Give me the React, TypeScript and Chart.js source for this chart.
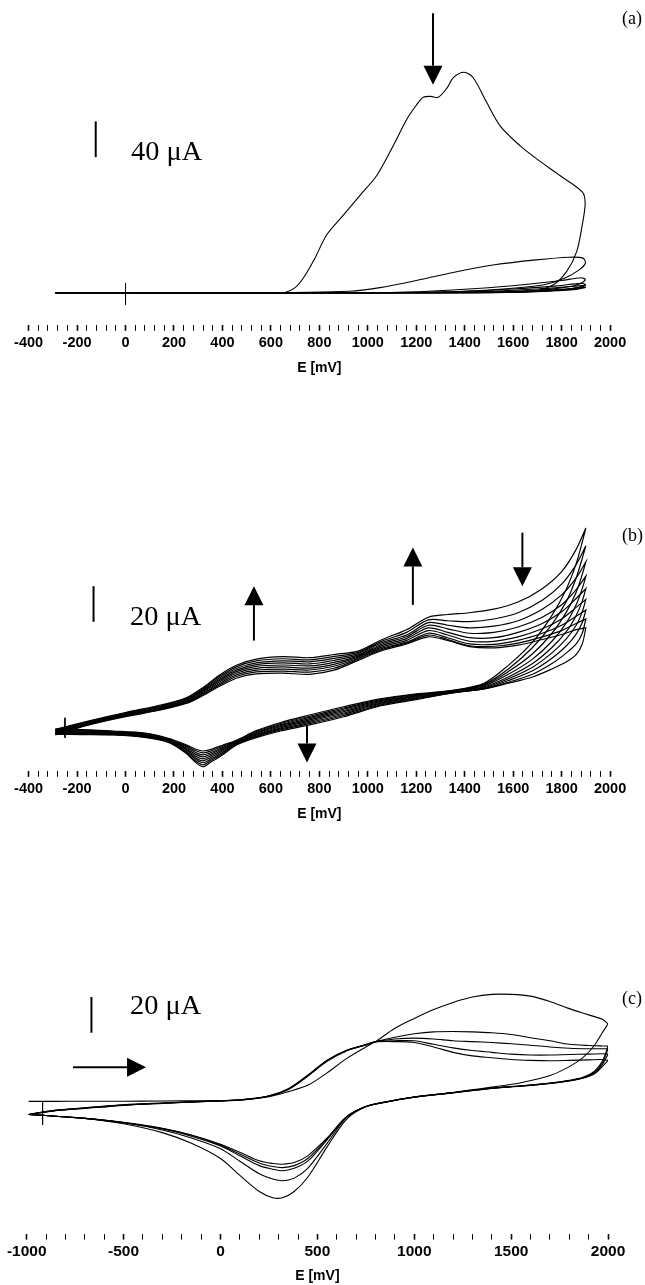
import React, { useEffect, useRef } from 'react';
import { Chart, registerables } from 'chart.js';

Chart.register(...registerables);

// ---------------- axis tick labels ----------------
const abTickLabels = [-400, -200, 0, 200, 400, 600, 800, 1000, 1200, 1400, 1600, 1800, 2000];
const cTickLabels = [-1000, -500, 0, 500, 1000, 1500, 2000];

// ---------------- panel (a): E [mV] / I [uA] ----------------
const aCycle1E = [-290, 0, 300, 600, 658, 700, 734, 780, 830, 899, 967, 1037, 1105, 1161, 1200, 1229, 1260, 1291, 1326, 1353, 1397, 1435, 1491, 1546, 1628, 1697, 1793, 1885, 1897, 1885, 1862, 1821, 1766, 1683, 1550, 1200, 800, 300, -290];
const aCycle1I = [0, 0, 0, 0, 0.5, 6, 16.7, 38, 64.8, 87, 109, 131.4, 164.8, 194.4, 210, 219, 220, 219, 229, 241, 247, 240.8, 213, 187, 164.8, 150, 131.4, 113, 100, 76, 46.3, 24.1, 9.2, 1.9, 0.6, 0.3, 0, 0, 0];
const aCycle2E = [-290, 500, 927, 1050, 1182, 1352, 1523, 1694, 1830, 1888, 1898, 1872, 1814, 1727, 1607, 1400, 1000, 400, -290];
const aCycle2I = [0, 0, 1.9, 6, 12.9, 23, 31.5, 37, 40, 39, 33.3, 25.9, 16.7, 9.2, 5.6, 2, 0.5, 0, 0];
const aCycle3E = [-290, 1000, 1250, 1450, 1650, 1800, 1880, 1898, 1880, 1830, 1720, 1550, 1250, -290];
const aCycle3I = [0, 0, 2, 5, 9.5, 14, 17, 15, 11, 7, 3.5, 1.2, 0.2, 0];
const aCycle4E = [-290, 1150, 1400, 1600, 1780, 1880, 1898, 1870, 1780, 1600, 1300, -290];
const aCycle4I = [0, 0, 2, 4.5, 8, 10.8, 9.5, 6.5, 3.2, 1, 0.2, 0];
const aCycle5E = [-290, 1250, 1500, 1700, 1850, 1898, 1870, 1750, 1550, 1300, -290];
const aCycle5I = [0, 0, 2, 4.5, 7.5, 8.5, 5.5, 2.5, 0.8, 0.2, 0];
const aCycle6E = [-290, 1350, 1600, 1800, 1898, 1860, 1700, 1450, -290];
const aCycle6I = [0, 0, 1.8, 4.2, 6.3, 4, 1.5, 0.3, 0];
const aMarkE = [0, 0];
const aMarkI = [11, -13];

// ---------------- panel (b) ----------------
const bFwdE = [-290, -150, 0, 150, 250, 320, 390, 460, 540, 650, 760, 860, 960, 1060, 1160, 1250, 1330, 1420, 1520, 1620, 1720, 1800, 1860, 1900];
const bFwd1 = [-0.8, 3.9, 8.6, 12.9, 16.8, 22.6, 29.8, 35.2, 38.5, 39.9, 39.3, 41.1, 43.0, 49.5, 55.0, 62.0, 63.5, 64.5, 66.5, 70.5, 78.0, 87.5, 100.0, 112];
const bFwd2 = [-1.2, 3.6, 8.3, 12.5, 16.4, 22.1, 29.0, 34.3, 37.5, 38.7, 38.1, 40.0, 42.3, 48.6, 53.5, 60.5, 60.0, 59.5, 61.0, 64.5, 71.5, 80.5, 91.5, 102];
const bFwd3 = [-1.6, 3.3, 8.0, 12.2, 16.0, 21.5, 28.2, 33.4, 36.4, 37.5, 37.0, 38.9, 41.6, 47.8, 52.0, 59.0, 57.5, 56.0, 57.0, 60.0, 66.5, 74.5, 84.0, 93];
const bFwd4 = [-2.0, 3.0, 7.7, 11.8, 15.6, 21.0, 27.4, 32.5, 35.4, 36.4, 35.8, 37.8, 40.9, 47.0, 51.0, 57.5, 55.5, 53.0, 53.5, 56.5, 62.0, 69.0, 77.5, 85];
const bFwd5 = [-2.4, 2.8, 7.4, 11.5, 15.2, 20.4, 26.6, 31.6, 34.4, 35.2, 34.7, 36.7, 40.2, 46.2, 50.0, 56.0, 53.5, 50.5, 50.5, 53.5, 58.5, 65.0, 72.5, 78];
const bFwd6 = [-2.8, 2.5, 7.1, 11.1, 14.8, 19.9, 25.8, 30.7, 33.3, 34.1, 33.5, 35.6, 39.6, 45.4, 49.0, 54.5, 52.0, 48.5, 48.5, 51.0, 55.5, 61.0, 67.5, 72];
const bFwd7 = [-3.2, 2.2, 6.8, 10.8, 14.4, 19.3, 25.0, 29.8, 32.3, 32.9, 32.4, 34.5, 39.0, 44.7, 48.0, 53.0, 50.5, 47.0, 46.8, 49.0, 53.0, 57.5, 62.5, 66];
const bFwd8 = [-3.6, 1.9, 6.5, 10.5, 14.0, 18.7, 24.2, 28.9, 31.3, 31.8, 31.2, 33.4, 38.4, 44.0, 47.5, 52.0, 49.5, 46.0, 45.7, 47.5, 51.0, 54.5, 58.5, 61];
const bFwd9 = [-4.0, 1.6, 6.2, 10.1, 13.6, 18.1, 23.4, 27.9, 30.2, 30.6, 30.0, 32.3, 37.8, 43.3, 47.0, 51.0, 49.0, 45.5, 44.8, 46.3, 49.5, 52.3, 55.0, 56];

const bRevE = [1900, 1885, 1860, 1820, 1760, 1680, 1580, 1480, 1350, 1200, 1050, 900, 760, 640, 540, 460, 400, 350, 320, 290, 250, 180, 80, -50, -180, -290];
const bRev1 = [112, 104, 92, 78, 63, 48, 35, 25, 21, 19.0, 16.2, 11.8, 7.2, 3.0, -1.6, -6.8, -9.8, -12.2, -13.0, -12.0, -9.5, -6.0, -3.0, -1.8, -1.0, -0.6];
const bRev2 = [102, 95, 84, 71, 58, 45, 33, 24.5, 20.8, 18.6, 15.7, 11.1, 6.5, 2.4, -2.1, -7.2, -10.4, -13.1, -14.1, -12.9, -10.0, -6.3, -3.3, -2.1, -1.4, -1.0];
const bRev3 = [93, 86, 76, 65, 53, 41.5, 31.5, 24, 20.6, 18.2, 15.2, 10.4, 5.8, 1.8, -2.6, -7.6, -11.1, -14.0, -15.2, -13.9, -10.6, -6.6, -3.6, -2.4, -1.8, -1.4];
const bRev4 = [85, 78, 69, 59, 48.5, 38.5, 30, 23.5, 20.4, 17.8, 14.7, 9.7, 5.1, 1.2, -3.1, -8.0, -11.8, -14.9, -16.3, -14.9, -11.3, -6.9, -3.9, -2.7, -2.2, -1.9];
const bRev5 = [78, 71, 63, 54, 45, 36, 28.5, 23, 20.2, 17.4, 14.2, 9.0, 4.4, 0.6, -3.6, -8.3, -12.4, -15.8, -17.4, -15.9, -11.9, -7.2, -4.2, -3.0, -2.6, -2.3];
const bRev6 = [72, 65, 57.5, 50, 42, 34, 27.5, 22.5, 20, 17.0, 13.7, 8.3, 3.7, 0.0, -4.1, -8.6, -13.1, -16.7, -18.5, -16.9, -12.5, -7.5, -4.5, -3.3, -3.0, -2.7];
const bRev7 = [66, 59, 52.5, 46, 39, 32, 26.5, 22, 19.8, 16.6, 13.2, 7.6, 3.0, -0.6, -4.6, -8.9, -13.8, -17.6, -19.6, -17.8, -13.1, -7.8, -4.8, -3.6, -3.3, -3.1];
const bRev8 = [61, 53, 47, 42, 36, 30, 25.5, 22, 19.6, 16.2, 12.7, 6.9, 2.3, -1.2, -5.1, -9.2, -14.5, -18.5, -20.7, -18.7, -13.7, -8.0, -5.1, -3.8, -3.6, -3.4];
const bRev9 = [56, 47, 41, 37, 33, 28.5, 25, 21.8, 19.5, 15.8, 12.2, 6.2, 1.6, -1.8, -5.6, -9.5, -15.2, -19.4, -21.8, -19.5, -14.3, -8.3, -5.4, -4.0, -3.8, -3.6];
const bMarkE = [-250, -250];
const bMarkI = [5.6, -5.6];

// ---------------- panel (c) ----------------
const cFwdE = [-990, -850, -700, -500, -300, -100, 100, 250, 350, 450, 550, 650, 750, 800, 900, 1000, 1100, 1200, 1300, 1400, 1500, 1600, 1700, 1800, 1900, 1970, 2000];
const cFwd1 = [6.5, 6.5, 6.6, 6.6, 6.7, 6.9, 7.3, 9.2, 12.0, 15.5, 22.5, 30.5, 37.0, 40.0, 47.5, 53.0, 58.0, 62.0, 65.0, 66.5, 66.5, 65.5, 62.5, 58.5, 55.0, 52.5, 50.0];
const cFwd2 = [-0.8, 1.6, 2.9, 4.6, 5.6, 6.5, 7.4, 9.6, 13.6, 21.2, 29.6, 35.2, 38.4, 40.0, 42.5, 44.4, 45.5, 45.7, 45.5, 45.0, 44.0, 42.2, 40.5, 38.5, 37.8, 37.6, 37.6];
const cFwd3 = [-0.8, 1.5, 2.8, 4.5, 5.5, 6.5, 7.3, 9.5, 13.4, 21.0, 29.4, 35.0, 38.3, 40.0, 41.5, 42.0, 41.5, 40.5, 40.0, 39.5, 38.8, 38.0, 37.0, 36.3, 36.0, 36.0, 36.0];
const cFwd4 = [-0.8, 1.4, 2.7, 4.4, 5.5, 6.4, 7.3, 9.5, 13.3, 20.8, 29.2, 34.9, 38.2, 39.9, 40.5, 40.5, 38.5, 36.5, 35.0, 34.0, 33.0, 32.5, 32.5, 32.8, 33.0, 33.2, 33.0];
const cFwd5 = [-0.8, 1.3, 2.6, 4.3, 5.4, 6.4, 7.2, 9.4, 13.2, 20.6, 29.0, 34.8, 38.1, 39.8, 40.0, 39.5, 37.0, 34.0, 32.0, 31.0, 30.0, 29.5, 29.3, 29.5, 29.8, 30.0, 29.5];

const cRevE = [2000, 1970, 1930, 1870, 1800, 1700, 1550, 1400, 1200, 1000, 850, 750, 650, 550, 450, 380, 320, 270, 200, 100, 0, -150, -300, -500, -700, -850, -990];
const cRev1 = [50, 45, 38, 31, 26, 21, 17, 14.5, 11.5, 9, 6, 3.5, -3.5, -19, -36, -44, -47.5, -47.5, -44, -35, -25.5, -17, -11, -6, -3, -1.8, -0.8];
const cRev2 = [37.6, 29, 23.5, 20, 18.3, 16.8, 15.3, 14, 11.5, 9, 6.2, 3.7, -2.5, -17, -31, -36.5, -38, -37, -34, -27, -20, -14, -9.5, -5.5, -3, -1.8, -0.8];
const cRev3 = [36, 28, 23, 19.8, 18.2, 16.7, 15.2, 13.9, 11.4, 8.9, 6.2, 3.7, -2.3, -15, -27, -31, -32.4, -31.5, -29.5, -24, -18.5, -13, -9, -5.5, -3, -1.8, -0.8];
const cRev4 = [33, 27, 22.5, 19.6, 18.1, 16.6, 15.1, 13.9, 11.4, 8.9, 6.1, 3.6, -2.2, -14.5, -25.5, -29.5, -30.6, -30, -28, -23, -18, -12.5, -8.7, -5.3, -3, -1.8, -0.8];
const cRev5 = [29.5, 26, 22, 19.5, 18, 16.5, 15, 13.8, 11.3, 8.8, 6.1, 3.6, -2.1, -14, -24, -27.8, -28.7, -28.3, -26.8, -22, -17.5, -12.3, -8.5, -5.2, -2.9, -1.8, -0.8];
const cMarkE = [-918, -918];
const cMarkI = [6.7, -6.7];

// ---------------- helpers ----------------
type Pt = { x: number; y: number };
const seg = (E: number[], I: number[]): Pt[] => E.map((e, k) => ({ x: e, y: I[k] }));
const loop = (fE: number[], fI: number[], rE: number[], rI: number[]): Pt[] => [...seg(fE, fI), ...seg(rE, rI)];

type Note =
  | { kind: 'bar'; e: number; i1: number; i2: number }
  | { kind: 'arrow'; e1: number; i1: number; e2: number; i2: number }
  | { kind: 'text'; e: number; i: number; text: string; font: string; base: CanvasTextBaseline; sx?: number };

const SERIF = '"Liberation Serif", "Times New Roman", "DejaVu Serif", serif';
const SANS = '"Liberation Sans", Arial, "DejaVu Sans", sans-serif';

interface PanelSpec {
  top: number;
  height: number;
  padding: { left: number; right: number; top: number; bottom: number };
  xMin: number;
  xMax: number;
  step: number;
  labels: number[];
  yMin: number;
  yMax: number;
  labelSize: number;
  titleSize: number;
  titlePadTop: number;
  series: Pt[][];
  marks: Pt[][];
  notes: Note[];
  lineWidth: number;
}

const panelA: PanelSpec = {
  top: 0,
  height: 377,
  padding: { left: 28.6, right: 34.9, top: 5, bottom: 0 },
  xMin: -400,
  xMax: 2000,
  step: 40,
  labels: abTickLabels,
  yMin: -35.6,
  yMax: 322.2,
  labelSize: 14.5,
  titleSize: 14,
  titlePadTop: 6,
  lineWidth: 1.1,
  series: [
    seg(aCycle1E, aCycle1I),
    seg(aCycle2E, aCycle2I),
    seg(aCycle3E, aCycle3I),
    seg(aCycle4E, aCycle4I),
    seg(aCycle5E, aCycle5I),
    seg(aCycle6E, aCycle6I),
  ],
  marks: [seg(aMarkE, aMarkI)],
  notes: [
    { kind: 'arrow', e1: 1269, i1: 313, e2: 1269, i2: 233 },
    { kind: 'bar', e: -123, i1: 192, i2: 152 },
    { kind: 'text', e: 23, i: 149, text: '40 μA', font: `27px ${SERIF}`, base: 'alphabetic', sx: 1.05 },
    { kind: 'text', e: 2049, i: 306, text: '(a)', font: `18px ${SERIF}`, base: 'middle' },
  ],
};

const panelB: PanelSpec = {
  top: 470,
  height: 353,
  padding: { left: 28.6, right: 34.9, top: 10, bottom: 0 },
  xMin: -400,
  xMax: 2000,
  step: 40,
  labels: abTickLabels,
  yMin: -24.1,
  yMax: 138.9,
  labelSize: 14.5,
  titleSize: 14,
  titlePadTop: 6,
  lineWidth: 1.2,
  series: [
    loop(bFwdE, bFwd1, bRevE, bRev1),
    loop(bFwdE, bFwd2, bRevE, bRev2),
    loop(bFwdE, bFwd3, bRevE, bRev3),
    loop(bFwdE, bFwd4, bRevE, bRev4),
    loop(bFwdE, bFwd5, bRevE, bRev5),
    loop(bFwdE, bFwd6, bRevE, bRev6),
    loop(bFwdE, bFwd7, bRevE, bRev7),
    loop(bFwdE, bFwd8, bRevE, bRev8),
    loop(bFwdE, bFwd9, bRevE, bRev9),
  ],
  marks: [seg(bMarkE, bMarkI)],
  notes: [
    { kind: 'bar', e: -132, i1: 79.4, i2: 59.4 },
    { kind: 'text', e: 19, i: 57.8, text: '20 μA', font: `27px ${SERIF}`, base: 'alphabetic', sx: 1.05 },
    { kind: 'arrow', e1: 530, i1: 48.9, e2: 530, i2: 79.4 },
    { kind: 'arrow', e1: 1186, i1: 68.9, e2: 1186, i2: 101.1 },
    { kind: 'arrow', e1: 1638, i1: 109.4, e2: 1638, i2: 79.4 },
    { kind: 'arrow', e1: 749, i1: 1.1, e2: 749, i2: -19.4 },
    { kind: 'text', e: 2049, i: 107.2, text: '(b)', font: `18px ${SERIF}`, base: 'middle' },
  ],
};

const panelC: PanelSpec = {
  top: 880,
  height: 405,
  padding: { left: 26.7, right: 36.9, top: 20, bottom: 0 },
  xMin: -1000,
  xMax: 2000,
  step: 100,
  labels: cTickLabels,
  yMin: -67.6,
  yMax: 119.4,
  labelSize: 15.5,
  titleSize: 14,
  titlePadTop: 4,
  lineWidth: 1.1,
  series: [
    loop(cFwdE, cFwd1, cRevE, cRev1),
    loop(cFwdE, cFwd2, cRevE, cRev2),
    loop(cFwdE, cFwd3, cRevE, cRev3),
    loop(cFwdE, cFwd4, cRevE, cRev4),
    loop(cFwdE, cFwd5, cRevE, cRev5),
  ],
  marks: [seg(cMarkE, cMarkI)],
  notes: [
    { kind: 'bar', e: -666, i1: 65, i2: 45 },
    { kind: 'text', e: -467, i: 55.6, text: '20 μA', font: `27px ${SERIF}`, base: 'alphabetic', sx: 1.05 },
    { kind: 'arrow', e1: -761, i1: 25.6, e2: -384, i2: 25.6 },
    { kind: 'text', e: 2072, i: 63.9, text: '(c)', font: `18px ${SERIF}`, base: 'middle' },
  ],
};

function notesPlugin(notes: Note[]) {
  return {
    id: 'notes',
    afterDraw(chart: any) {
      const { ctx, scales } = chart;
      const X = (v: number) => scales.x.getPixelForValue(v);
      const Y = (v: number) => scales.y.getPixelForValue(v);
      ctx.save();
      ctx.fillStyle = '#000';
      ctx.strokeStyle = '#000';
      for (const n of notes) {
        if (n.kind === 'bar') {
          ctx.lineWidth = 2;
          ctx.beginPath();
          ctx.moveTo(X(n.e), Y(n.i1));
          ctx.lineTo(X(n.e), Y(n.i2));
          ctx.stroke();
        } else if (n.kind === 'arrow') {
          const x1 = X(n.e1), y1 = Y(n.i1), x2 = X(n.e2), y2 = Y(n.i2);
          const ang = Math.atan2(y2 - y1, x2 - x1);
          const hl = 19, hw = 9.5;
          const bx = x2 - hl * Math.cos(ang), by = y2 - hl * Math.sin(ang);
          ctx.lineWidth = 2;
          ctx.beginPath();
          ctx.moveTo(x1, y1);
          ctx.lineTo(bx, by);
          ctx.stroke();
          ctx.beginPath();
          ctx.moveTo(x2, y2);
          ctx.lineTo(bx + hw * Math.sin(ang), by - hw * Math.cos(ang));
          ctx.lineTo(bx - hw * Math.sin(ang), by + hw * Math.cos(ang));
          ctx.closePath();
          ctx.fill();
        } else {
          ctx.save();
          ctx.font = n.font;
          ctx.textAlign = 'left';
          ctx.textBaseline = n.base;
          ctx.translate(X(n.e), Y(n.i));
          ctx.scale(n.sx ?? 1, 1);
          ctx.fillText(n.text, 0, 0);
          ctx.restore();
        }
      }
      ctx.restore();
    },
  };
}

function Panel({ spec }: { spec: PanelSpec }) {
  const ref = useRef<HTMLCanvasElement>(null);
  useEffect(() => {
    if (!ref.current) return;
    const datasets: any[] = [
      ...spec.series.map((data) => ({
        data,
        showLine: true,
        borderColor: '#000',
        borderWidth: spec.lineWidth,
        pointRadius: 0,
        tension: 0.3,
        fill: false,
      })),
      ...spec.marks.map((data) => ({
        data,
        showLine: true,
        borderColor: '#000',
        borderWidth: 1,
        pointRadius: 0,
        tension: 0,
        fill: false,
      })),
    ];
    const chart = new Chart(ref.current, {
      type: 'scatter',
      data: { datasets },
      options: {
        responsive: false,
        animation: false,
        devicePixelRatio: 1,
        events: [],
        layout: { padding: spec.padding },
        plugins: { legend: { display: false }, tooltip: { enabled: false } },
        scales: {
          x: {
            type: 'linear',
            position: 'bottom',
            min: spec.xMin,
            max: spec.xMax,
            border: { display: false },
            grid: {
              display: true,
              drawOnChartArea: false,
              drawTicks: true,
              tickLength: 6,
              tickColor: '#000',
              tickWidth: (c: any) => (spec.labels.includes(c.tick?.value) ? 1.6 : 1),
            },
            ticks: {
              stepSize: spec.step,
              autoSkip: false,
              maxRotation: 0,
              minRotation: 0,
              padding: 3,
              color: '#000',
              font: { family: SANS, size: spec.labelSize, weight: 'bold' },
              callback: (v: any) => (spec.labels.includes(Number(v)) ? String(v) : ''),
            },
            title: {
              display: true,
              text: 'E [mV]',
              color: '#000',
              font: { family: SANS, size: spec.titleSize, weight: 'bold' },
              padding: { top: spec.titlePadTop, bottom: 0 },
            },
          },
          y: { type: 'linear', display: false, min: spec.yMin, max: spec.yMax },
        },
      },
      plugins: [notesPlugin(spec.notes)],
    } as any);
    return () => chart.destroy();
  }, [spec]);
  return (
    <canvas
      ref={ref}
      width={645}
      height={spec.height}
      style={{ position: 'absolute', left: 0, top: spec.top, width: 645, height: spec.height, display: 'block' }}
    />
  );
}

export default function App() {
  useEffect(() => {
    document.body.style.margin = '0';
  }, []);
  return (
    <div style={{ position: 'absolute', left: 0, top: 0, width: 645, height: 1285, background: '#fff', overflow: 'hidden' }}>
      <Panel spec={panelA} />
      <Panel spec={panelB} />
      <Panel spec={panelC} />
    </div>
  );
}
